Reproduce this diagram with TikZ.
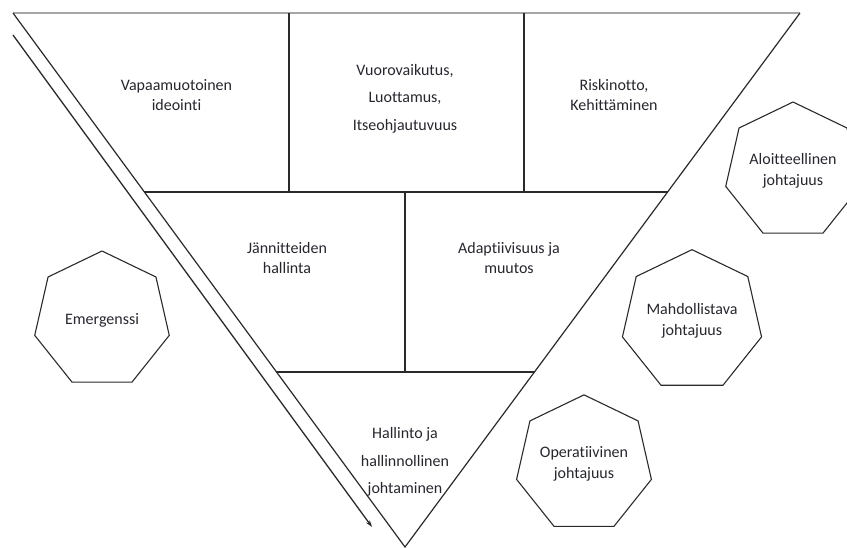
\documentclass[tikz,border=0pt]{standalone}
\usepackage{fontspec}
\setmainfont{Carlito}[Ligatures=NoCommon]
\usetikzlibrary{shapes.geometric,arrows.meta}
\definecolor{txt}{HTML}{26262E}
\definecolor{ln}{HTML}{2A2A2A}
\tikzset{
  lbl/.style={text=txt, align=center, font=\fontsize{16}{20.5}\selectfont, inner sep=0pt},
  lblthree/.style={text=txt, align=center, font=\fontsize{16}{27.5}\selectfont, inner sep=0pt},
  hept/.style={regular polygon, regular polygon sides=7, minimum size=138pt, draw=ln, line width=1.1pt, inner sep=0pt,
    text=txt, align=center, font=\fontsize{16}{20.5}\selectfont},
  edge/.style={draw=ln, line width=1.2pt},
  topedge/.style={draw=black!35, line width=1.6pt},
  flow/.style={draw=ln, line width=1.3pt, -{Stealth[length=7pt,width=4.5pt]}}
}
\begin{document}
\begin{tikzpicture}[x=1pt,y=-1pt]
\useasboundingbox (0,0) rectangle (847,547);
% triangle corners
\coordinate (TL) at (13,13);
\coordinate (TR) at (800,13);
\coordinate (AP) at (405,547);
% row boundaries
\coordinate (R1L) at (144,192);
\coordinate (R1R) at (668,192);
\coordinate (R2L) at (276,372);
\coordinate (R2R) at (535,372);
% dividers
\coordinate (D1T) at (289,13);
\coordinate (D1B) at (289,192);
\coordinate (D2T) at (524,13);
\coordinate (D2B) at (524,192);
\coordinate (D3T) at (405,192);
\coordinate (D3B) at (405,372);
% arrow ends
\coordinate (AS) at (13,35);
\coordinate (AE) at (372,527);

\draw[topedge] (TL) -- (TR);
\draw[edge] (TL) -- (AP) -- (TR);
\draw[edge] (R1L) -- (R1R);
\draw[edge] (R2L) -- (R2R);
\draw[edge] (D1T) -- (D1B);
\draw[edge] (D2T) -- (D2B);
\draw[edge] (D3T) -- (D3B);
\draw[flow] (AS) -- (AE);

% texts in triangle
\node[lbl] (vapaa) at (176.5,95) {Vapaamuotoinen\\ideointi};
\node[lblthree] (vuoro) at (405,98.5) {Vuorovaikutus,\\Luottamus,\\Itseohjautuvuus};
\node[lbl] (riski) at (614,95) {Riskinotto,\\Kehittäminen};
\node[lbl] (janni) at (287,258) {Jännitteiden\\hallinta};
\node[lbl] (adapt) at (509,258) {Adaptiivisuus ja\\muutos};
\node[lblthree] (hallinto) at (405,462) {Hallinto ja\\hallinnollinen\\johtaminen};

% heptagons
\node[hept] (emerg) at (102,320) {Emergenssi};
\node[hept] (aloit) at (793,171) {Aloitteellinen\\johtajuus};
\node[hept] (mahd) at (692,321) {Mahdollistava\\johtajuus};
\node[hept] (oper) at (584,464) {Operatiivinen\\johtajuus};
\end{tikzpicture}
\end{document}
